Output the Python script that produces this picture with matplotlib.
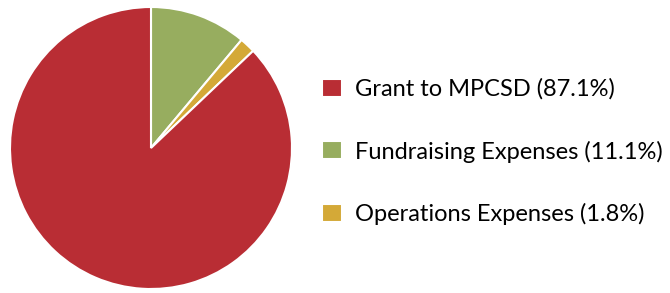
import matplotlib.pyplot as plt

labels = ['Grant to MPCSD (87.1%)', 'Fundraising Expenses (11.1%)', 'Operations Expenses (1.8%)']
values = [87.1, 11.1, 1.8]
colors = ['#B92D34', '#97AD5F', '#D4A937']

plt.rcParams['font.family'] = ['Lato', 'DejaVu Sans']

fig = plt.figure(figsize=(6.7, 2.93), dpi=100)
ax = fig.add_axes([10 / 670, 4 / 293, 282 / 670, 282 / 293])

# draw green, yellow, red clockwise from 12 o'clock
order = [1, 2, 0]
wedges, _ = ax.pie([values[i] for i in order], colors=[colors[i] for i in order],
                   startangle=90, counterclock=False,
                   wedgeprops=dict(edgecolor='white', linewidth=1.5))
ax.set_xlim(-1, 1)
ax.set_ylim(-1, 1)
ax.set_aspect('equal')

handles = [wedges[order.index(i)] for i in range(3)]
fig.legend(handles, labels, loc='center left', bbox_to_anchor=(322 / 670, 0.482),
           frameon=False, fontsize=17, handlelength=0.85, handleheight=0.8,
           handletextpad=0.55, labelspacing=1.72, borderaxespad=0, borderpad=0)

fig.savefig('out.png', dpi=100)
